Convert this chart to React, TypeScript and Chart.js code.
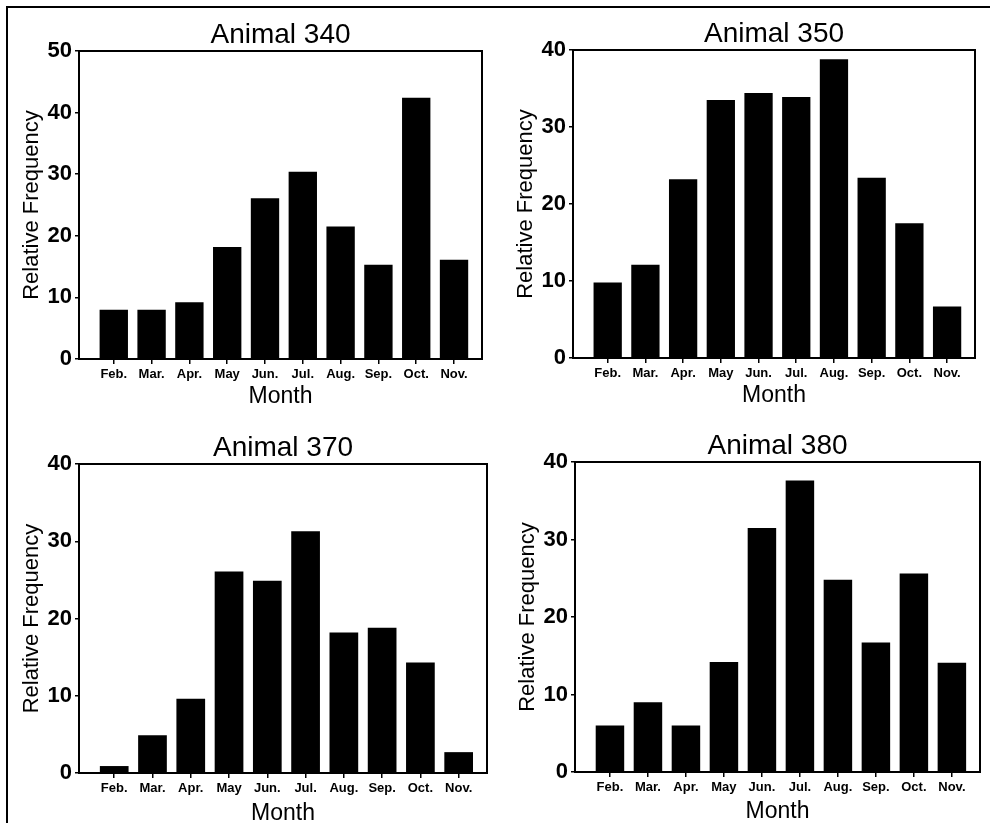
import React, { useEffect, useRef } from "react";
import { Chart, registerables } from "chart.js";

Chart.register(...registerables);

const MONTHS = ["Feb.", "Mar.", "Apr.", "May", "Jun.", "Jul.", "Aug.", "Sep.", "Oct.", "Nov."];

const TITLES = ["Animal 340", "Animal 350", "Animal 370", "Animal 380"];

const VALUES_340 = [8.0, 8.0, 9.2, 18.2, 26.1, 30.4, 21.5, 15.3, 42.4, 16.1];
const VALUES_350 = [9.8, 12.1, 23.2, 33.5, 34.4, 33.9, 38.8, 23.4, 17.5, 6.7];
const VALUES_370 = [0.9, 4.9, 9.6, 26.1, 24.9, 31.3, 18.2, 18.8, 14.3, 2.7];
const VALUES_380 = [6.0, 9.0, 6.0, 14.2, 31.5, 37.6, 24.8, 16.7, 25.6, 14.1];

const Y_MAX = [50, 40, 40, 40];
const Y_STEP = 10;

const SERIES = [VALUES_340, VALUES_350, VALUES_370, VALUES_380];

// plot-area rectangles (layout only)
const PLOTS = [
  { l: 79, r: 482, t: 51, b: 359, mb: 4 },
  { l: 573, r: 975, t: 50, b: 358, mb: 4 },
  { l: 79, r: 487, t: 464, b: 773, mb: 1 },
  { l: 575, r: 980, t: 462, b: 772, mb: 2 },
];

const FONT = "'Liberation Sans', Arial, Helvetica, sans-serif";
const YW = 71;
const TH = 43;
const XH = 53;
const PR = 8;

const framePlugin = {
  id: "frameBox",
  afterDraw(chart: any) {
    const { ctx, chartArea } = chart;
    ctx.save();
    ctx.strokeStyle = "#000";
    ctx.lineWidth = 2;
    ctx.strokeRect(chartArea.left, chartArea.top, chartArea.right - chartArea.left, chartArea.bottom - chartArea.top);
    ctx.restore();
  },
};

function Panel({ idx }: { idx: number }) {
  const ref = useRef<HTMLCanvasElement>(null);
  const p = PLOTS[idx];
  const w = p.r - p.l + YW + PR;
  const h = p.b - p.t + TH + XH;
  useEffect(() => {
    if (!ref.current) return;
    const chart = new Chart(ref.current, {
      type: "bar",
      data: {
        datasets: [
          {
            data: SERIES[idx].map((v, i) => ({ x: i + 1, y: v })),
            backgroundColor: "#000",
            borderWidth: 0,
            barPercentage: 0.75,
            categoryPercentage: 1,
          },
        ],
      },
      plugins: [framePlugin],
      options: {
        responsive: false,
        animation: false,
        layout: { padding: { left: 0, right: PR, top: 0, bottom: 0 } },
        plugins: {
          legend: { display: false },
          tooltip: { enabled: false },
          title: {
            display: true,
            fullSize: false,
            text: TITLES[idx],
            color: "#000",
            font: { family: FONT, size: 28, weight: "normal", lineHeight: 1 },
            padding: { top: 13, bottom: 2 },
          },
        },
        scales: {
          x: {
            type: "linear",
            min: 0.08,
            max: 10.74,
            offset: false,
            afterBuildTicks: (scale: any) => {
              scale.ticks = MONTHS.map((_, i) => ({ value: i + 1 }));
            },
            afterFit: (scale: any) => {
              scale.height = XH;
            },
            ticks: {
              color: "#000",
              font: { family: FONT, size: 13, weight: "bold" },
              padding: 3,
              maxRotation: 0,
              autoSkip: false,
              callback: (v: any) => MONTHS[Math.round(v) - 1] ?? "",
            },
            grid: { display: true, offset: false, drawOnChartArea: false, drawTicks: true, tickLength: 5, color: "#000", lineWidth: 1.5 },
            border: { display: true, color: "#000", width: 2 },
            title: {
              display: true,
              text: "Month",
              color: "#000",
              font: { family: FONT, size: 23, weight: "normal", lineHeight: 1 },
              padding: { top: 0, bottom: p.mb },
            },
          },
          y: {
            min: 0,
            max: Y_MAX[idx],
            afterFit: (scale: any) => {
              scale.width = YW;
            },
            ticks: {
              stepSize: Y_STEP,
              color: "#000",
              font: { family: FONT, size: 22, weight: "bold" },
              padding: 3,
            },
            grid: { display: true, drawOnChartArea: false, drawTicks: true, tickLength: 4, color: "#000", lineWidth: 1.5 },
            border: { display: true, color: "#000", width: 2 },
            title: {
              display: true,
              text: "Relative Frequency",
              color: "#000",
              font: { family: FONT, size: 22, weight: "normal", lineHeight: 1 },
              padding: { top: 13, bottom: 0 },
            },
          },
        },
      } as any,
    });
    return () => chart.destroy();
  }, [idx]);
  return (
    <canvas
      ref={ref}
      width={w}
      height={h}
      style={{ position: "absolute", left: p.l - YW, top: p.t - TH, width: w, height: h }}
    />
  );
}

export default function App() {
  return (
    <div
      style={{
        position: "absolute",
        left: 0,
        top: 0,
        width: 990,
        height: 823,
        overflow: "hidden",
        background: "#fff",
      }}
    >
      <div
        style={{
          position: "absolute",
          left: 6,
          top: 6,
          width: 990,
          height: 823,
          borderTop: "2px solid #000",
          borderLeft: "2px solid #000",
        }}
      />
      {[0, 1, 2, 3].map((i) => (
        <Panel key={i} idx={i} />
      ))}
    </div>
  );
}
